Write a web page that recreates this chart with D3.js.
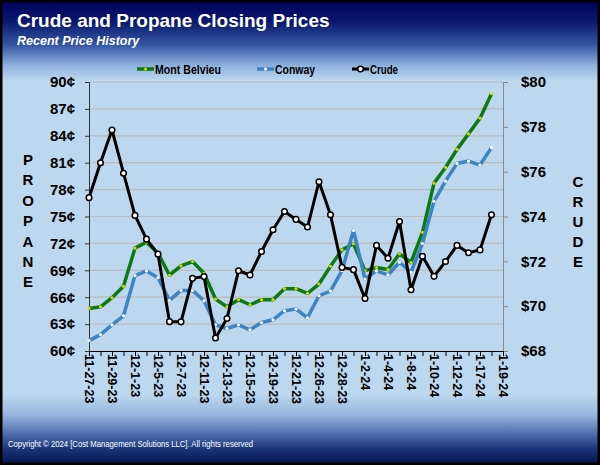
<!DOCTYPE html>
<html><head><meta charset="utf-8">
<script src="https://cdn.jsdelivr.net/npm/d3@7"></script>
<style>body{margin:0;background:#fff}svg{display:block}</style>
</head><body>
<script>
const categories = ["11-27-23","11-28-23","11-29-23","11-30-23","12-1-23","12-4-23","12-5-23","12-6-23","12-7-23","12-8-23","12-11-23","12-12-23","12-13-23","12-14-23","12-15-23","12-18-23","12-19-23","12-20-23","12-21-23","12-22-23","12-26-23","12-27-23","12-28-23","12-29-23","1-2-24","1-3-24","1-4-24","1-5-24","1-8-24","1-9-24","1-10-24","1-11-24","1-12-24","1-16-24","1-17-24","1-18-24","1-19-24"];
const montBelvieu = [64.75,64.93,65.94,67.21,71.47,72.14,70.91,68.45,69.49,69.98,68.67,65.79,64.93,65.72,65.16,65.72,65.72,66.95,66.95,66.43,67.47,69.45,71.28,71.96,68.97,69.31,69.08,70.84,69.87,73.23,78.72,80.47,82.49,84.21,85.97,88.69];
const conway = [61.16,61.83,62.92,63.93,68.41,68.93,68.18,65.64,66.76,66.76,65.6,62.92,62.51,62.92,62.36,63.18,63.48,64.49,64.68,63.71,66.17,66.69,68.97,73.45,68.03,68.93,68.48,69.9,68.78,71.99,76.7,78.94,80.92,81.18,80.74,82.68];
const crude = [74.84,76.40,77.86,75.93,74.05,72.99,72.32,69.31,69.30,71.24,71.32,68.58,69.45,71.58,71.39,72.44,73.41,74.22,73.87,73.53,75.55,74.08,71.73,71.63,70.34,72.71,72.14,73.78,70.73,72.23,71.33,71.99,72.71,72.38,72.51,74.08];
const propaneTicks = [60,63,66,69,72,75,78,81,84,87,90];
const crudeTicks = [68,70,72,74,76,78,80];

const W = 600, H = 465;
const svg = d3.select("body").append("svg").attr("width", W).attr("height", H);
const defs = svg.append("defs");
const g = defs.append("linearGradient").attr("id","bg").attr("x1",0).attr("y1",0).attr("x2",0).attr("y2",1);
[[0,"#00005c"],[0.045,"#0b186e"],[0.095,"#3558a4"],[0.14,"#90b2df"],[0.172,"#bdd7ee"],[0.85,"#bdd7ee"],[0.893,"#98b6df"],[0.935,"#4e6eae"],[0.968,"#1a3478"],[1,"#06154d"]]
  .forEach(([o,c]) => g.append("stop").attr("offset",o).attr("stop-color",c));
svg.append("rect").attr("x",1).attr("y",1).attr("width",W-2).attr("height",H-2)
  .attr("fill","url(#bg)").attr("stroke","#000").attr("stroke-width",3);

svg.append("text").attr("x",17).attr("y",27).attr("fill","#fff")
  .attr("font-family","Liberation Sans, Arial, sans-serif").attr("font-weight","bold").attr("font-size",19)
  .text("Crude and Propane Closing Prices");
svg.append("text").attr("x",17).attr("y",45).attr("fill","#fff")
  .attr("font-family","Liberation Sans, Arial, sans-serif").attr("font-weight","bold").attr("font-style","italic").attr("font-size",12.5)
  .text("Recent Price History");
svg.append("text").attr("x",8).attr("y",447).attr("fill","#fff")
  .attr("font-family","Liberation Sans Narrow, Arial Narrow, Liberation Sans, sans-serif").attr("font-size",9.5)
  .attr("textLength",245).attr("lengthAdjust","spacingAndGlyphs")
  .text("Copyright \u00A9 2024 [Cost Management Solutions LLC].  All rights reserved");

const L = 89, R = 503, T = 82, B = 351;
const x = d3.scalePoint().domain(categories).range([L, R]);
const yL = d3.scaleLinear().domain([60, 90]).range([B, T]);
const yR = d3.scaleLinear().domain([68, 80]).range([B, T]);

// gridlines
svg.append("g").selectAll("line").data(propaneTicks.slice(1)).join("line")
  .attr("x1", L).attr("x2", R).attr("y1", d => yL(d)).attr("y2", d => yL(d))
  .attr("stroke", "#bcbcbc").attr("stroke-width", 1.2);

const axisFont = "Liberation Sans, Arial, sans-serif";
const left = svg.append("g").attr("transform", `translate(${L},0)`)
  .call(d3.axisLeft(yL).tickValues(propaneTicks).tickSize(4).tickPadding(10).tickFormat(d => d + "\u00A2"));
left.selectAll("path,line").attr("stroke", "#333");
left.selectAll("text").attr("font-family", axisFont).attr("font-weight", "bold").attr("font-size", 15).attr("fill", "#000");

const right = svg.append("g").attr("transform", `translate(${R},0)`)
  .call(d3.axisRight(yR).tickValues(crudeTicks).tickSize(5).tickPadding(13).tickFormat(d => "$" + d));
right.selectAll("path,line").attr("stroke", "#888");
right.selectAll("text").attr("font-family", axisFont).attr("font-weight", "bold").attr("font-size", 15).attr("fill", "#000");

const bottom = svg.append("g").attr("transform", `translate(0,${B})`)
  .call(d3.axisBottom(x).tickSize(5).tickSizeOuter(0).tickFormat((d, i) => i % 2 === 0 ? d : ""));
bottom.selectAll("path,line").attr("stroke", "#000");
bottom.selectAll("text").attr("font-family", axisFont).attr("font-weight", "bold").attr("font-size", 12.5).attr("fill", "#000")
  .attr("y", 0).attr("x", 3).attr("dy", "0.36em").attr("transform", "rotate(90)").style("text-anchor", "start");

// vertical titles
const vt = (letters, cx, y0, step) => svg.append("g").selectAll("text").data(letters.split("")).join("text")
  .attr("x", cx).attr("y", (d, i) => y0 + i * step).attr("text-anchor", "middle")
  .attr("font-family", axisFont).attr("font-weight", "bold").attr("font-size", 15).text(d => d);
vt("PROPANE", 28, 165, 20.4);
vt("CRUDE", 578, 187, 20);

// series
const series = [
  {name: "Mont Belvieu", vals: montBelvieu, y: yL, color: "#0b7a12", w: 3.5, mfill: "#d8d400", mstroke: "none", r: 1.6},
  {name: "Conway", vals: conway, y: yL, color: "#3c84c4", w: 3.5, mfill: "#ffffff", mstroke: "none", r: 1.6},
  {name: "Crude", vals: crude, y: yR, color: "#000000", w: 3, mfill: "#ffffff", mstroke: "#000", r: 2.8}
];
series.forEach(s => {
  const line = d3.line().x((d, i) => x(categories[i])).y(d => s.y(d));
  svg.append("path").datum(s.vals).attr("d", line).attr("fill", "none")
    .attr("stroke", s.color).attr("stroke-width", s.w).attr("stroke-linejoin", "round");
  svg.append("g").selectAll("circle").data(s.vals).join("circle")
    .attr("cx", (d, i) => x(categories[i])).attr("cy", d => s.y(d)).attr("r", s.r)
    .attr("fill", s.mfill).attr("stroke", s.mstroke).attr("stroke-width", 1.5);
});

// legend
const legX = [137, 257, 352];
const legLen = [66, 40, 28];
series.forEach((s, i) => {
  const lg = svg.append("g").attr("transform", `translate(${legX[i]},69)`);
  lg.append("line").attr("x1", 0).attr("x2", 17).attr("stroke", s.color).attr("stroke-width", s.w);
  lg.append("circle").attr("cx", 8.5).attr("r", s.r).attr("fill", s.mfill).attr("stroke", s.mstroke).attr("stroke-width", 1.5);
  lg.append("text").attr("x", 18).attr("y", 5).attr("font-family", "Liberation Sans Narrow, Arial Narrow, Liberation Sans, sans-serif")
    .attr("font-weight", "bold").attr("font-size", 12.5)
    .attr("textLength", legLen[i]).attr("lengthAdjust", "spacingAndGlyphs").text(s.name);
});
</script>
</body></html>
